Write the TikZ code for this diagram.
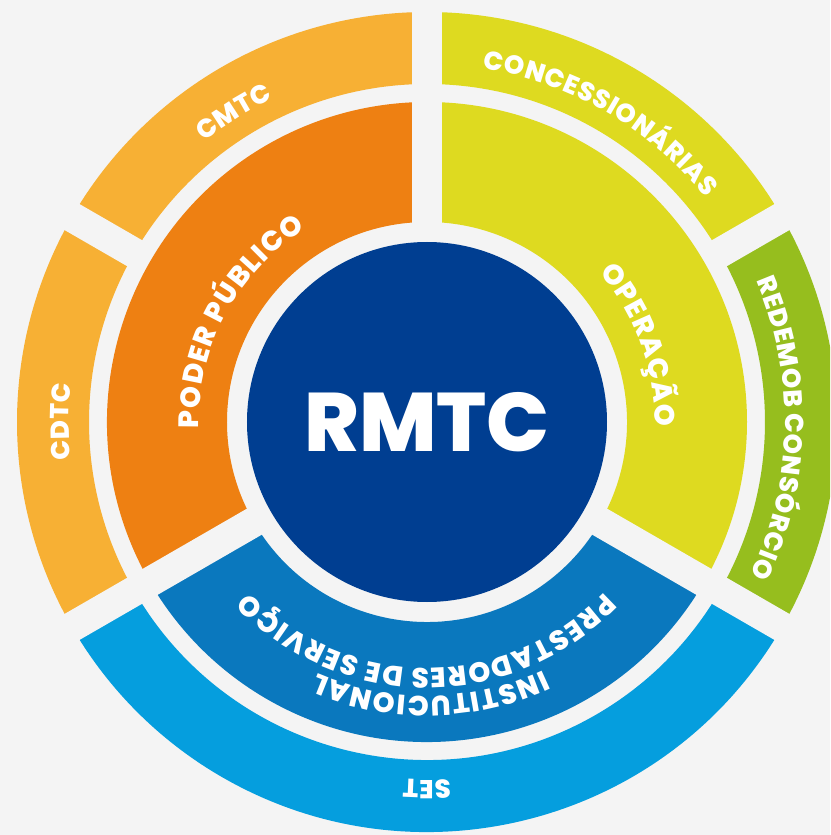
\documentclass[tikz,border=0pt]{standalone}
\usepackage{fontspec}
\setmainfont{Poppins}[BoldFont={Poppins ExtraBold}]
\usetikzlibrary{decorations.text}

\definecolor{fundo}{RGB}{244,244,244}
\definecolor{azulescuro}{RGB}{0,62,145}
\definecolor{laranja}{RGB}{238,128,18}
\definecolor{laranjaclaro}{RGB}{247,176,52}
\definecolor{amarelo}{RGB}{222,218,32}
\definecolor{verde}{RGB}{150,190,30}
\definecolor{azul}{RGB}{10,120,190}
\definecolor{azulclaro}{RGB}{5,158,222}

\tikzset{
  outer text/.style={decorate, decoration={text along path, text color=white,
      text align=center, text={|\fontsize{26}{26}\selectfont\bfseries\kern0.6pt|#1}}},
  inner text/.style={decorate, decoration={text along path, text color=white,
      text align=center, text={|\fontsize{28}{28}\selectfont\bfseries\kern1.2pt|#1}}},
  gap/.style={draw=fundo, line width=30},
}

\begin{document}
\begin{tikzpicture}[x=1pt, y=1pt]
  \clip (-427,-413) rectangle (403,422);
  \fill[fundo] (-427,-413) rectangle (403,422);

  % outer ring
  \fill[laranjaclaro] (90:338) arc[start angle=90, end angle=150, radius=338]
    -- (150:410) arc[start angle=150, end angle=90, radius=410] -- cycle;
  \fill[laranjaclaro] (150:338) arc[start angle=150, end angle=210, radius=338]
    -- (210:410) arc[start angle=210, end angle=150, radius=410] -- cycle;
  \fill[azulclaro] (210:338) arc[start angle=210, end angle=330, radius=338]
    -- (330:410) arc[start angle=330, end angle=210, radius=410] -- cycle;
  \fill[verde] (-30:338) arc[start angle=-30, end angle=30, radius=338]
    -- (30:410) arc[start angle=30, end angle=-30, radius=410] -- cycle;
  \fill[amarelo] (30:338) arc[start angle=30, end angle=90, radius=338]
    -- (90:410) arc[start angle=90, end angle=30, radius=410] -- cycle;

  % middle ring
  \fill[laranja] (90:200) arc[start angle=90, end angle=210, radius=200]
    -- (210:320) arc[start angle=210, end angle=90, radius=320] -- cycle;
  \fill[azul] (210:200) arc[start angle=210, end angle=330, radius=200]
    -- (330:320) arc[start angle=330, end angle=210, radius=320] -- cycle;
  \fill[amarelo] (-30:200) arc[start angle=-30, end angle=90, radius=200]
    -- (90:320) arc[start angle=90, end angle=-30, radius=320] -- cycle;

  % white gaps
  \foreach \a in {90,210,330}
    \draw[gap] (\a:190) -- (\a:430);
  \foreach \a in {30,150}
    \draw[gap] (\a:330) -- (\a:430);

  \node[circle, fill=azulescuro, minimum size=360, inner sep=0, text=white,
    font=\fontsize{83}{83}\selectfont\bfseries] (rmtc) at (0,0) {RMTC};

  % labels
  \path[outer text={CMTC}] (148:358) arc[start angle=148, end angle=96, radius=358];
  \path[outer text={CDTC}] (208:358) arc[start angle=208, end angle=152, radius=358];
  \path[outer text={CONCESSIONÁRIAS}] (90:358) arc[start angle=90, end angle=30, radius=358];
  \path[outer text={REDEMOB CONSÓRCIO}] (30:358) arc[start angle=30, end angle=-32, radius=358];
  \path[outer text={SET}] (320:358) arc[start angle=320, end angle=220, radius=358];
  \path[inner text={PODER PÚBLICO}] (192:228) arc[start angle=192, end angle=112, radius=228];
  \path[inner text={OPERAÇÃO}] (60:228) arc[start angle=60, end angle=-20, radius=228];
  \path[inner text={INSTITUCIONAL}] (321:274) arc[start angle=321, end angle=221, radius=274];
  \path[inner text={PRESTADORES DE SERVIÇO}] (325:246) arc[start angle=325, end angle=215, radius=246];
\end{tikzpicture}
\end{document}
